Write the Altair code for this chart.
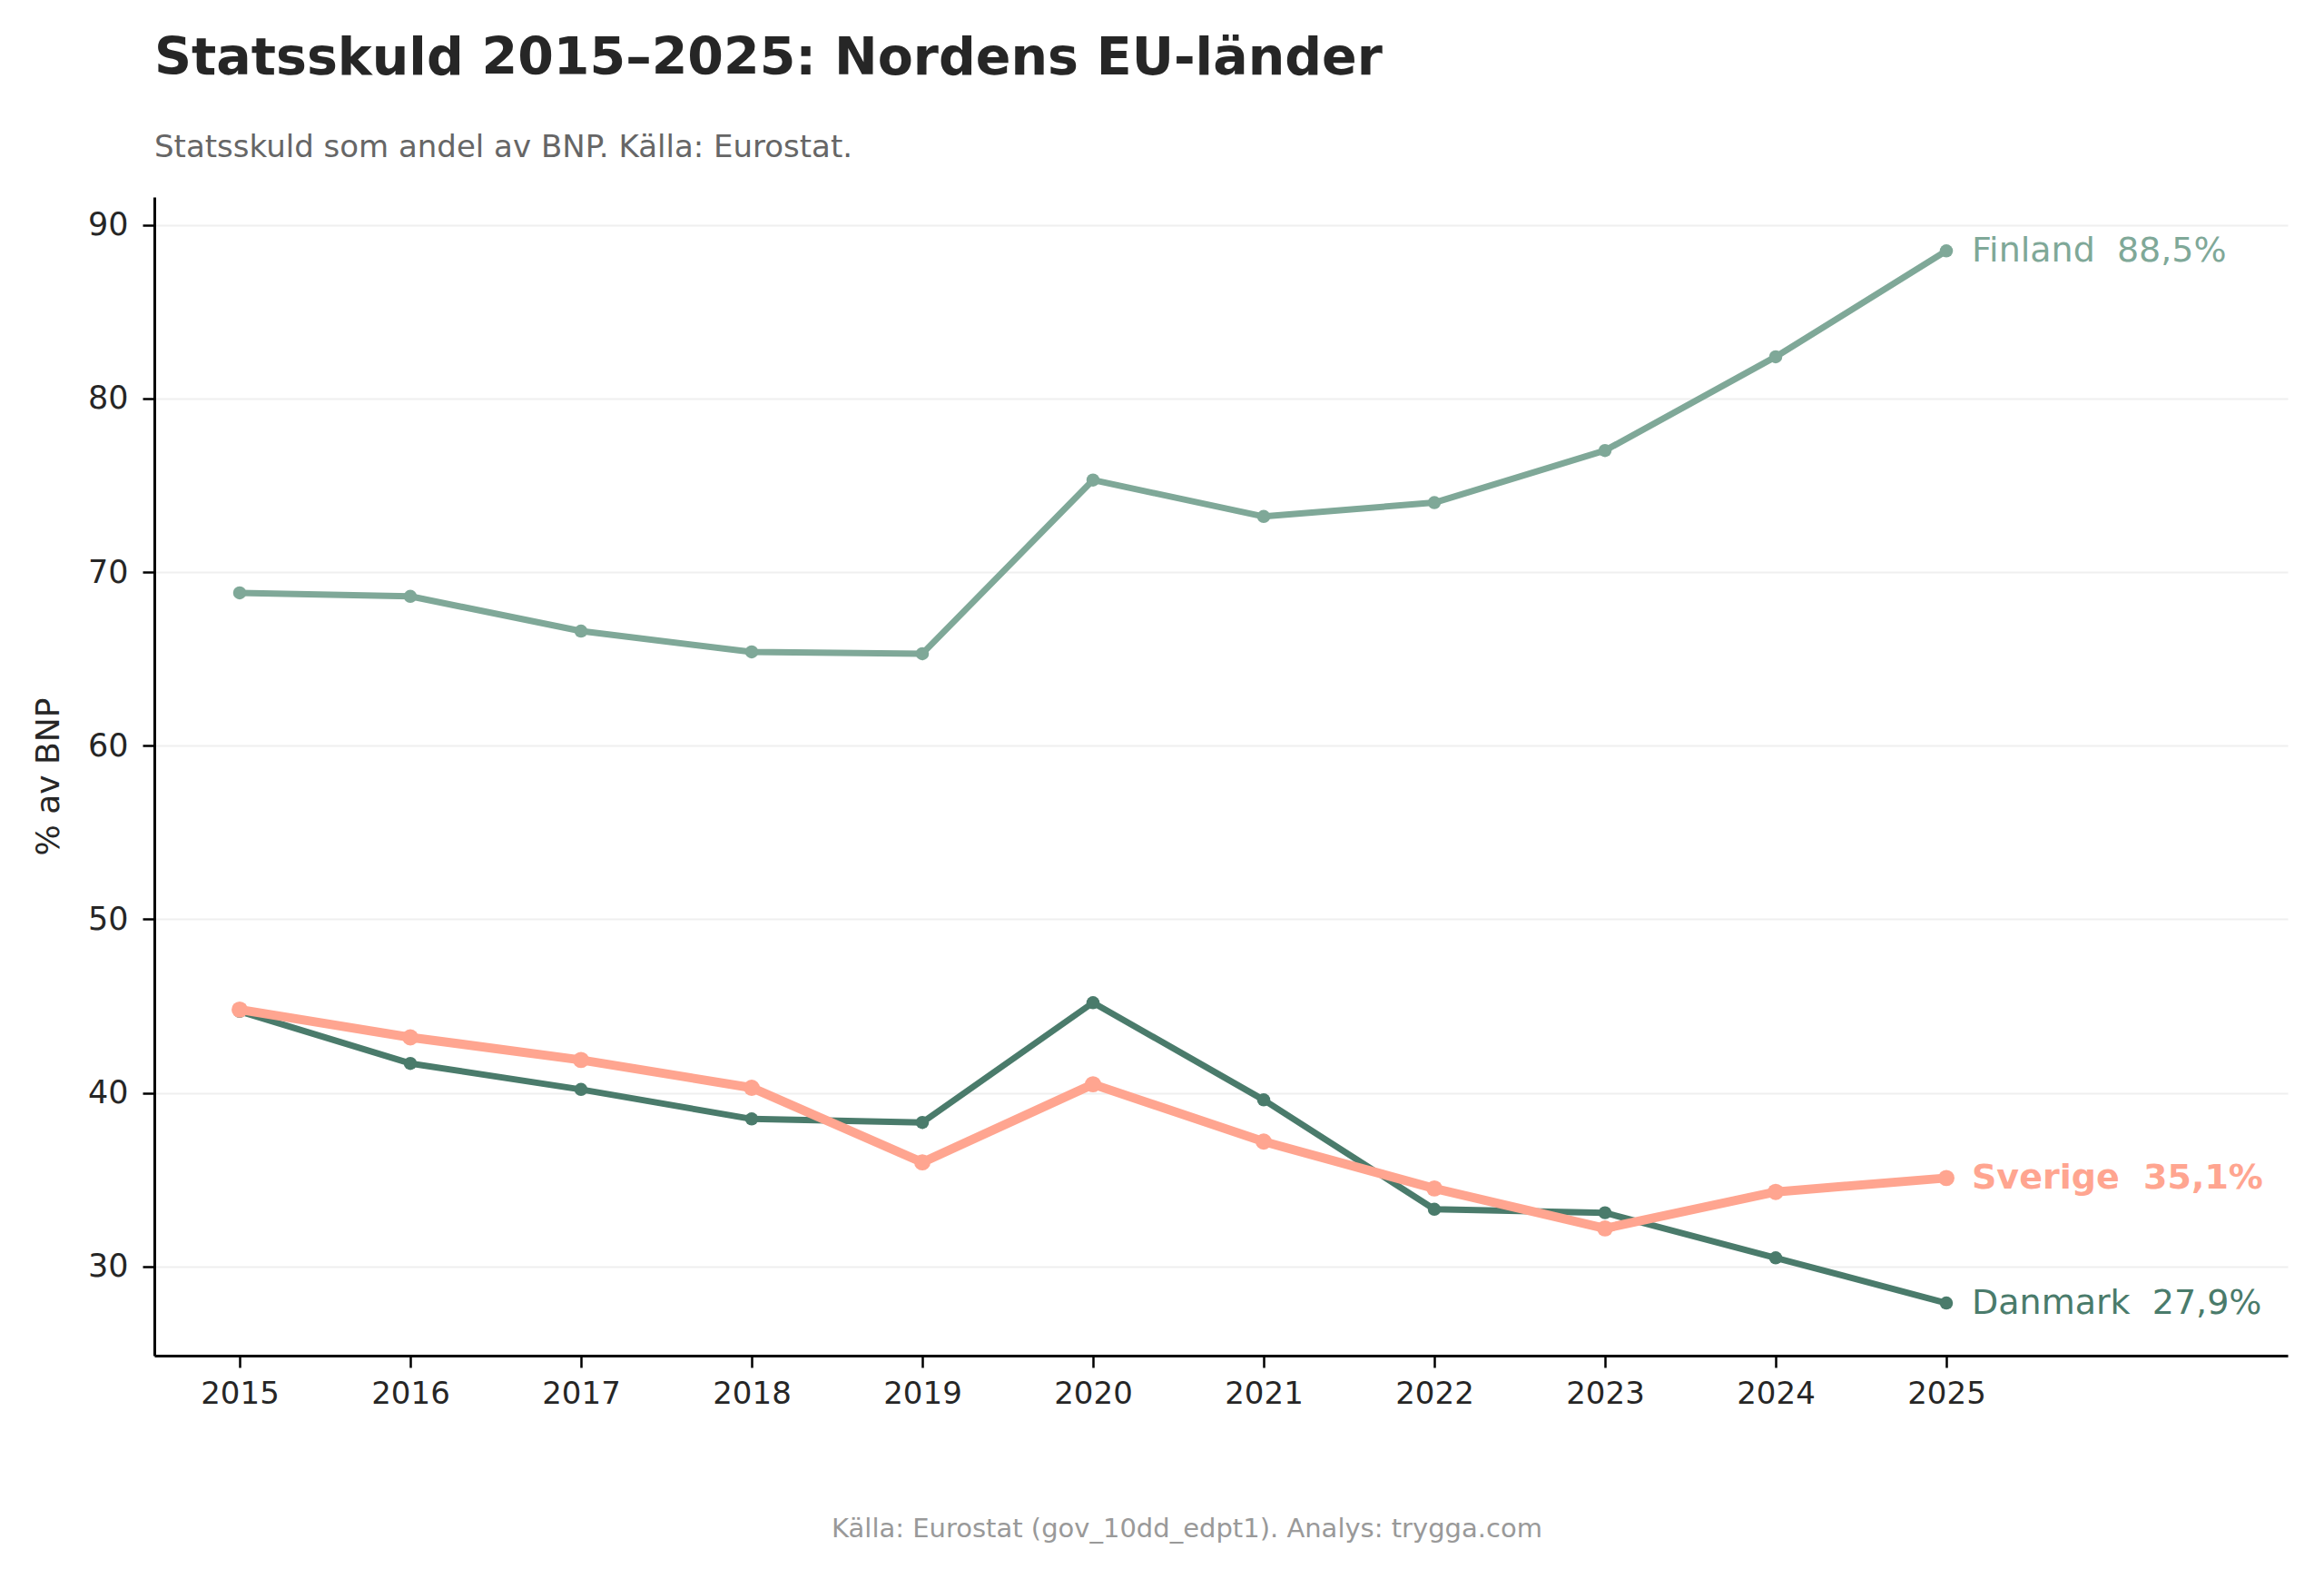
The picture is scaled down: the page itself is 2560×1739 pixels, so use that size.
import altair as alt
import pandas as pd

## values (% of GDP)
years = [2015, 2016, 2017, 2018, 2019, 2020, 2021, 2022, 2023, 2024, 2025]
finland = [68.8, 68.6, 66.6, 65.4, 65.3, 75.3, 73.2, 74.0, 77.0, 82.4, 88.5]
danmark = [44.7, 41.7, 40.2, 38.5, 38.3, 45.2, 39.6, 33.3, 33.1, 30.5, 27.9]
sverige = [44.8, 43.2, 41.9, 40.3, 36.0, 40.5, 37.2, 34.5, 32.2, 34.3, 35.1]

countries = ['Finland', 'Danmark', 'Sverige']
colors = ['#7FA898', '#4A7B6B', '#FFA590']
y_ticks = [30, 40, 50, 60, 70, 80, 90]

rows = []
for name, series in zip(countries, [finland, danmark, sverige]):
    for yr, val in zip(years, series):
        rows.append({'country': name, 'year': yr, 'value': val})
df = pd.DataFrame(rows)

## end labels, e.g. "Finland  88,5%" (nbsp so the double space survives svg)
last = df[df['year'] == years[-1]].copy()
last['label'] = last.apply(
    lambda r: r.country + '\u00a0\u00a0' + ('%.1f' % r.value).replace('.', ',') + '%', axis=1)

x = alt.X('year:Q',
          scale=alt.Scale(domain=[2014.5, 2027], nice=False, zero=False),
          axis=alt.Axis(values=years, format='d', grid=False,
                        title='Källa: Eurostat (gov_10dd_edpt1). Analys: trygga.com',
                        titleColor='#999999', titleFontSize=29, titleFontWeight='normal',
                        titleX=1137, titleY=199, titleBaseline='alphabetic',
                        labelFontSize=34, labelPadding=12))
y = alt.Y('value:Q',
          scale=alt.Scale(domain=[24.87, 91.6], nice=False, zero=False),
          axis=alt.Axis(values=y_ticks, title='% av BNP', grid=True,
                        titleFontSize=36, titleFontWeight='normal', titleColor='#262626',
                        titlePadding=24, labelFontSize=35, labelPadding=16))
color = alt.Color('country:N', scale=alt.Scale(domain=countries, range=colors), legend=None)

def series_layer(name, width, size):
    sub = df[df['country'] == name]
    base = alt.Chart(sub).encode(x=x, y=y, color=color)
    return (base.mark_line(strokeWidth=width, strokeCap='round', strokeJoin='round')
            + base.mark_circle(size=size, opacity=1))

lines = series_layer('Finland', 7, 210) + series_layer('Danmark', 7, 210) + series_layer('Sverige', 10, 320)

labels_normal = alt.Chart(last[last['country'] != 'Sverige']).mark_text(
    align='left', baseline='middle', dx=28, dy=1, fontSize=38
).encode(x=x, y=y, color=color, text='label:N')
labels_bold = alt.Chart(last[last['country'] == 'Sverige']).mark_text(
    align='left', baseline='middle', dx=28, dy=1, fontSize=38, fontWeight='bold'
).encode(x=x, y=y, color=color, text='label:N')

chart = (lines + labels_normal + labels_bold).properties(
    width=2350,
    height=1276,
    title=alt.TitleParams(
        'Statsskuld 2015–2025: Nordens EU-länder',
        subtitle='Statsskuld som andel av BNP. Källa: Eurostat.',
        anchor='start', frame='group', fontSize=57, fontWeight='bold', color='#262626',
        subtitleFontSize=34, subtitleColor='#666666', subtitlePadding=52, offset=36),
    autosize=alt.AutoSizeParams(type='none'),
    padding={'left': 162, 'top': 209, 'right': 32, 'bottom': 230},
).configure(
    font='DejaVu Sans'
).configure_view(
    stroke=None
).configure_axis(
    domainColor='#000000', domainWidth=3, tickColor='#000000', tickWidth=2.5, tickSize=13,
    labelColor='#262626', gridColor='#efefef', gridWidth=2, labelFont='DejaVu Sans',
    titleFont='DejaVu Sans'
)

chart.save('out.html', embed_options={'renderer': 'svg', 'actions': False})
